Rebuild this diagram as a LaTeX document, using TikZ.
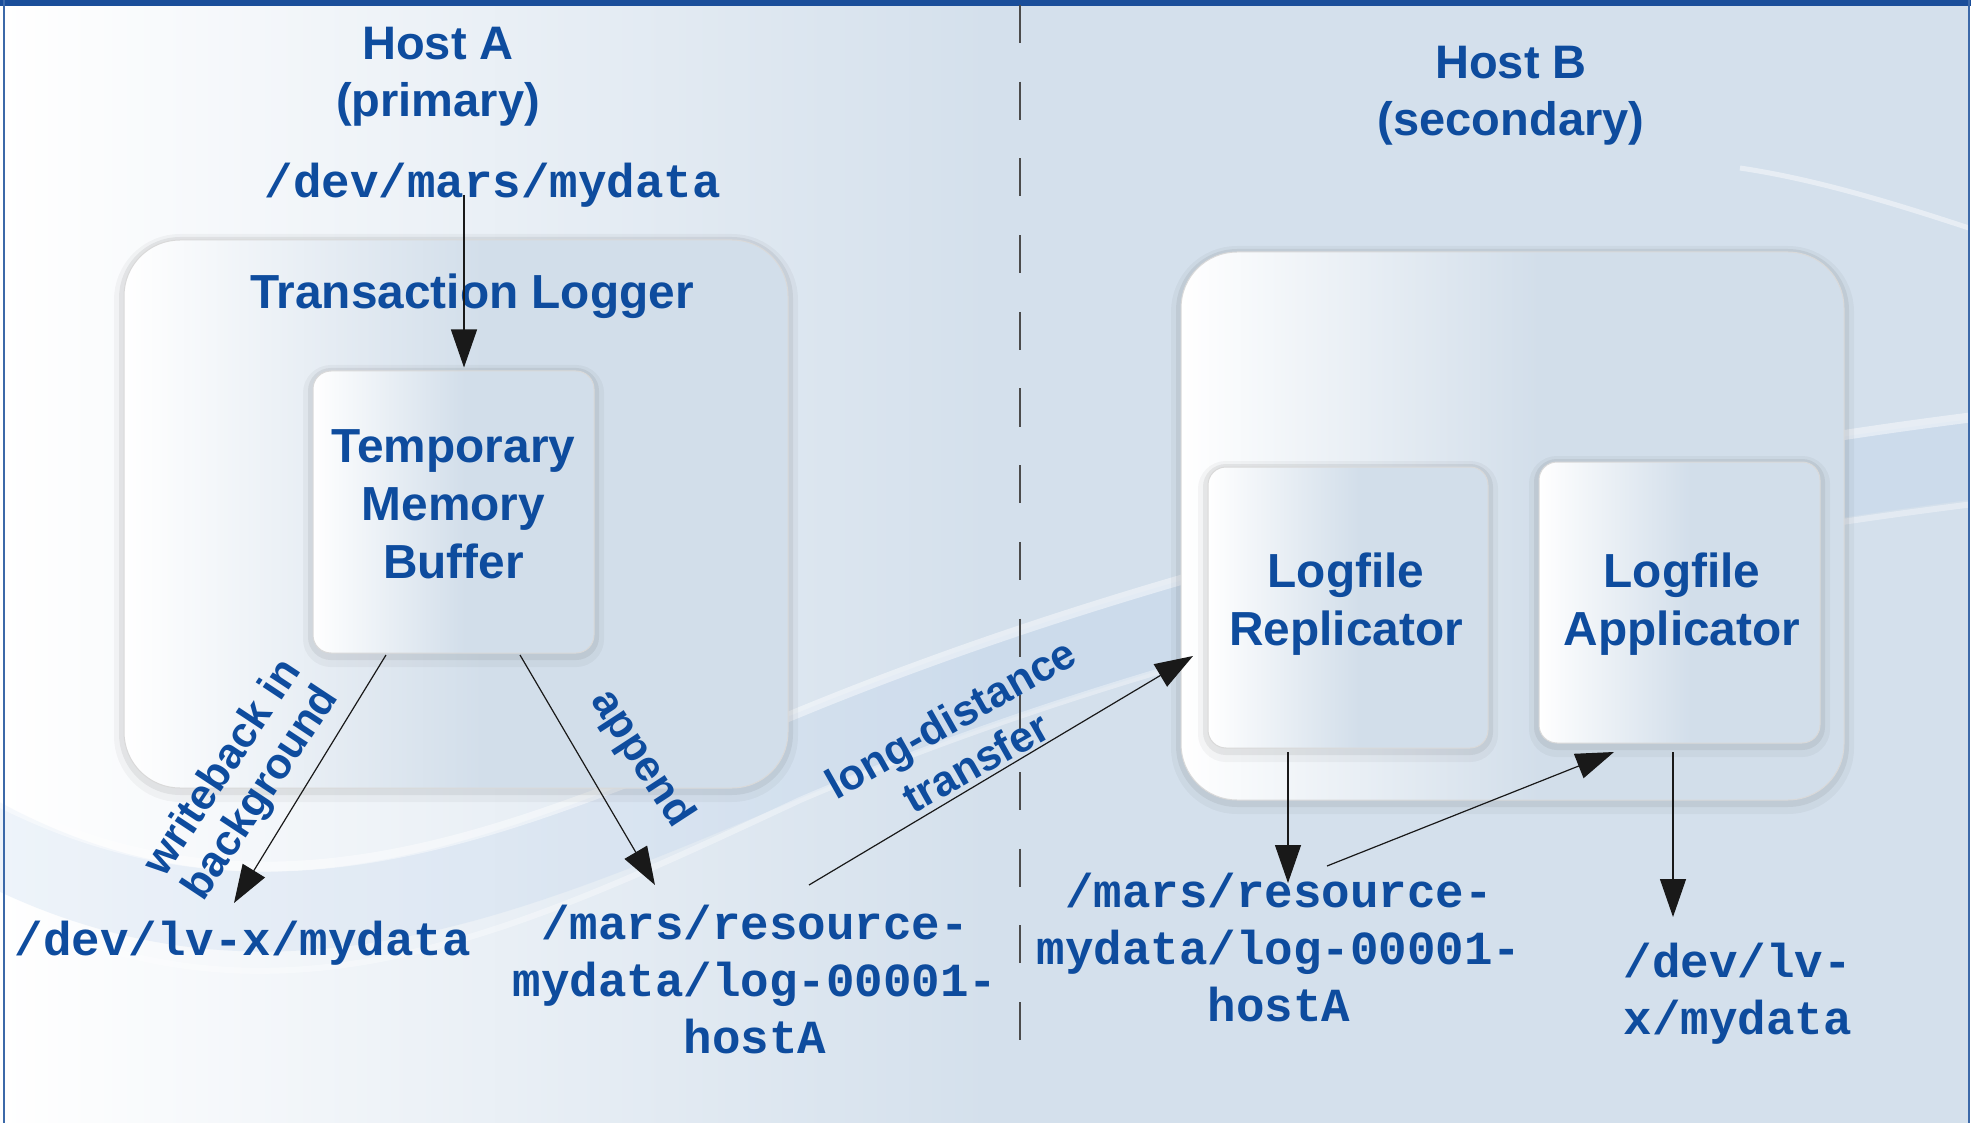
\documentclass[tikz,border=0pt]{standalone}
\usepackage{fontspec}
\setmainfont{Liberation Sans}
\newfontfamily\monofont{Liberation Mono}
\usetikzlibrary{arrows.meta,calc}
\definecolor{txtblue}{HTML}{0E4C9E}
\definecolor{bgblue}{HTML}{D4E0EC}
\definecolor{boxblue}{HTML}{D2DEEA}
\definecolor{swblue}{HTML}{B4CCEA}
\definecolor{framebl}{HTML}{1A4E9A}
\pgfdeclarehorizontalshading{boxshade}{100bp}{color(0bp)=(white); color(25bp)=(white); color(52bp)=(boxblue); color(100bp)=(boxblue)}
\pgfdeclarehorizontalshading{bgshade}{100bp}{color(0bp)=(white); color(25bp)=(white); color(50bp)=(bgblue); color(100bp)=(bgblue)}
\begin{document}
\begin{tikzpicture}[x=0.5pt,y=-0.5pt,
  boxbase/.style={shade, shading=boxshade, draw=black!15, line width=0.5pt, inner sep=0pt,
    preaction={draw=black, draw opacity=0.035, line width=10pt, transform canvas={yshift=-2pt}},
    preaction={draw=black, draw opacity=0.06, line width=5pt, transform canvas={yshift=-1pt}}},
  bigbox/.style={boxbase, rounded corners=28pt},
  smallbox/.style={boxbase, rounded corners=9pt},
  sanslbl/.style={text=txtblue, font=\fontsize{23.9pt}{29pt}\selectfont\bfseries, align=center, inner sep=0pt},
  hostlbl/.style={text=txtblue, font=\fontsize{23.5pt}{28.5pt}\selectfont\bfseries, align=center, inner sep=0pt},
  rotlbl/.style={text=txtblue, font=\fontsize{21.5pt}{23pt}\selectfont\bfseries, align=center, inner sep=0pt},
  rotlblwide/.style={rotlbl, font=\fontsize{21.5pt}{25.5pt}\selectfont\bfseries},
  monolbl/.style={text=txtblue, font=\fontsize{23.75pt}{28.5pt}\selectfont\monofont\bfseries, align=center, inner sep=0pt},
  arr/.style={draw=black!90, line width=0.6pt, -{Triangle[length=19pt,width=13pt]}},
  dashline/.style={draw=black!70, line width=0.6pt, dash pattern=on 19pt off 19.35pt}
]
\useasboundingbox (0,0) rectangle (1977,1123);
% background
\shade[shading=bgshade] (0,0) rectangle (1977,1123);
\begin{scope}
  \clip (0,0) rectangle (1977,1123);
  \draw[swblue, opacity=0.22, line width=40pt, line cap=round]
    (-50,820) .. controls (250,1000) and (500,880) .. (800,755) .. controls (1150,610) and (1600,500) .. (2050,450);
  \draw[white, opacity=0.45, line width=5pt]
    (-50,775) .. controls (250,955) and (500,835) .. (800,712) .. controls (1150,568) and (1600,458) .. (2050,408);
  \draw[white, opacity=0.35, line width=3pt]
    (-50,880) .. controls (250,1060) and (500,940) .. (800,800) .. controls (1150,650) and (1600,545) .. (2050,495);
  \draw[white, opacity=0.45, line width=2.5pt]
    (1740,168) .. controls (1820,180) and (1900,205) .. (1990,235);
\end{scope}
% frame
\fill[white] (1969,0) rectangle (1977,1123);
\fill[framebl] (0,0) rectangle (1971,6);
\draw[framebl!85, line width=1pt] (4,0) -- (4,1123);
\draw[framebl!85, line width=1pt] (1969,0) -- (1969,1123);
% separator
\draw[dashline] (1020,5) -- (1020,1040);
% boxes
\node[bigbox, minimum width=332pt, minimum height=274pt] (tl) at (456,514) {};
\node[smallbox, minimum width=140.5pt, minimum height=141pt] (tmb) at (453.5,512) {};
\node[bigbox, minimum width=331.5pt, minimum height=274pt] (hb) at (1512.5,526) {};
\node[smallbox, minimum width=140pt, minimum height=140.5pt] (rep) at (1348,607.5) {};
\node[smallbox, minimum width=140.5pt, minimum height=140.5pt] (app) at (1679.5,602.5) {};
% texts
\node[hostlbl] (hosta) at (438,77) {\strut Host A\\(primary)\strut};
\node[hostlbl] (hostb) at (1511,96) {\strut Host B\\(secondary)\strut};
\node[monolbl, anchor=base] (devmars) at (493,198) {/dev/mars/mydata};
\node[sanslbl, anchor=base] (tltitle) at (472,309) {Transaction Logger};
\node[sanslbl] (tmbtext) at (453.5,509) {\strut Temporary\\Memory\\Buffer\strut};
\node[sanslbl] (reptext) at (1346,605) {\strut Logfile\\Replicator\strut};
\node[sanslbl] (apptext) at (1682,605) {\strut Logfile\\Applicator\strut};
\node[monolbl, anchor=base] (lvx) at (243,955) {/dev/lv-x/mydata};
\node[monolbl] (lmars) at (755,985) {\strut/mars/resource-\\mydata/log-00001-\\hostA\strut};
\node[monolbl] (rmars) at (1279,953) {\strut/mars/resource-\\mydata/log-00001-\\hostA\strut};
\node[monolbl] (rlvx) at (1738,995) {\strut/dev/lv-\\x/mydata\strut};
\node[rotlbl, rotate=56.5] (wblbl) at (243,781) {writeback in\\background};
\node[rotlbl, rotate=-57] (applbl) at (641,759) {append};
\node[rotlblwide, rotate=29.5] (ldlbl) at (963,740) {long-distance\\transfer};
% connector end points
\coordinate (a1s) at (464,195);
\coordinate (wbs) at (386,655);  \coordinate (wbe) at (234,903);
\coordinate (aps) at (520,655);  \coordinate (ape) at (655,885);
\coordinate (lds) at (809,885);  \coordinate (lde) at (1193,656);
\coordinate (rds) at (1288,752); \coordinate (rde) at (1288,883);
\coordinate (ras) at (1327,866); \coordinate (rae) at (1614,752);
\coordinate (ads) at (1673,752); \coordinate (ade) at (1673,917);
% connectors
\draw[arr, shorten >=1.5pt] (a1s) -- (a1s |- tmb.north);
\draw[arr] (wbs) -- (wbe);
\draw[arr] (aps) -- (ape);
\draw[arr] (lds) -- (lde);
\draw[arr] (rds) -- (rde);
\draw[arr] (ras) -- (rae);
\draw[arr] (ads) -- (ade);
\end{tikzpicture}
\end{document}
